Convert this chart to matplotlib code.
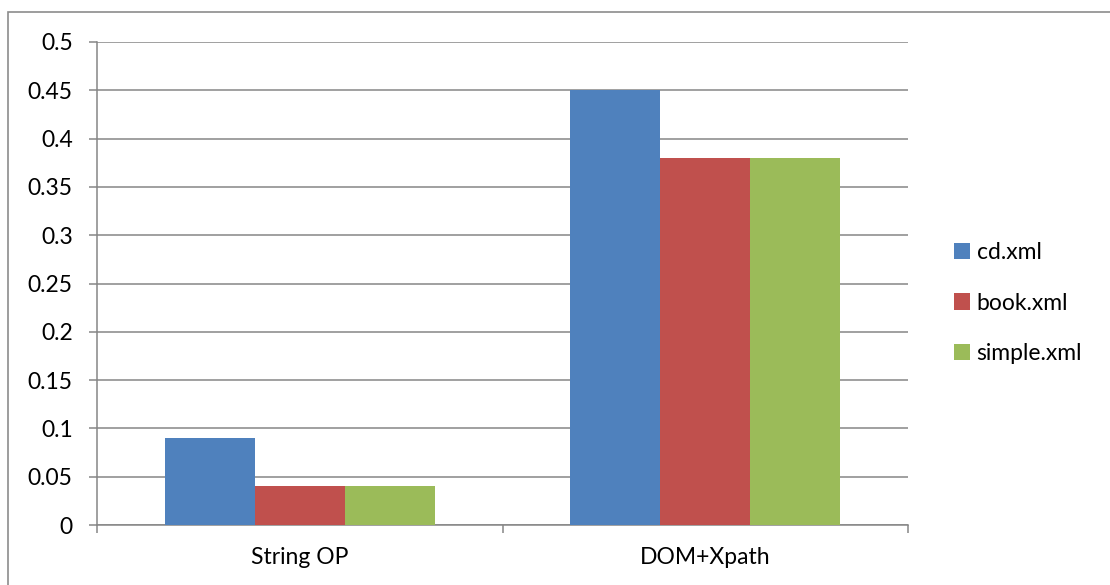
import matplotlib
matplotlib.use("Agg")
import matplotlib.pyplot as plt
from matplotlib.patches import Rectangle
import numpy as np

categories = ["String OP", "DOM+Xpath"]
series_names = ["cd.xml", "book.xml", "simple.xml"]
cd_xml = [0.09, 0.45]
book_xml = [0.04, 0.38]
simple_xml = [0.04, 0.38]
y_ticks = [0, 0.05, 0.1, 0.15, 0.2, 0.25, 0.3, 0.35, 0.4, 0.45, 0.5]
y_tick_labels = ["0", "0.05", "0.1", "0.15", "0.2", "0.25", "0.3", "0.35", "0.4", "0.45", "0.5"]

colors = ["#4F81BD", "#C0504D", "#9BBB59"]
grid_color = "#868686"
fs = 16.5

plt.rcParams["font.family"] = ["Lato", "DejaVu Sans"]

fig = plt.figure(figsize=(11.10, 5.85), dpi=100)
fig.patches.append(Rectangle((8 / 1110, -0.1), 1.2, 1 - 12 / 585 + 0.1,
                             transform=fig.transFigure, fill=False,
                             edgecolor="#8c8c8c", linewidth=1.2))

ax = fig.add_axes([97 / 1110, 1 - 525 / 585, (908 - 97) / 1110, (525 - 42) / 585])

x = np.arange(len(categories))
width = 0.222
for i, (name, vals) in enumerate(zip(series_names, [cd_xml, book_xml, simple_xml])):
    ax.bar(x + (i - 1) * width, vals, width=width, color=colors[i], label=name,
           linewidth=0, zorder=3)

ax.set_xlim(-0.5, len(categories) - 0.5)
ax.set_ylim(0, 0.5)

ax.set_yticks(y_ticks)
ax.set_yticklabels(y_tick_labels, fontsize=fs)
ax.yaxis.grid(True, color=grid_color, linewidth=1.1, zorder=0)
ax.set_axisbelow(True)

ax.set_xticks(np.arange(-0.5, len(categories), 1.0))
ax.set_xticklabels([])
ax.set_xticks(x, minor=True)
ax.set_xticklabels(categories, minor=True, fontsize=fs)
ax.tick_params(axis="x", which="minor", length=0, pad=16)
ax.tick_params(axis="x", which="major", length=5.5, width=1.1, color=grid_color, direction="out")
ax.tick_params(axis="y", length=5.5, width=1.1, color=grid_color, pad=12)

for s in ["top", "right"]:
    ax.spines[s].set_visible(False)
for s in ["left", "bottom"]:
    ax.spines[s].set_color(grid_color)
    ax.spines[s].set_linewidth(1.1)

leg = fig.legend(loc="center left", bbox_to_anchor=(933 / 1110, 1 - 303 / 585),
                 frameon=False, fontsize=fs, handlelength=0.7, handleheight=0.7,
                 handletextpad=0.3, labelspacing=1.3)

fig.savefig("out.png", dpi=100)
